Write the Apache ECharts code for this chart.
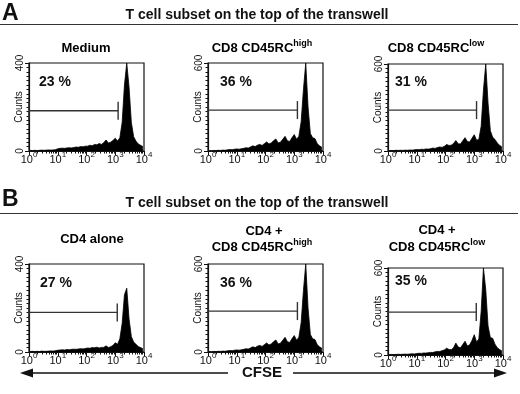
<!DOCTYPE html>
<html><head><meta charset="utf-8">
<script src="https://cdn.jsdelivr.net/npm/echarts@6/dist/echarts.min.js"></script>
<style>html,body{margin:0;padding:0;background:#fff}#c{width:520px;height:394px}</style>
</head><body><div id="c"></div>
<script>
// ---------- data ----------
const BIN_CENTERS = [0.04,0.12,0.20,0.28,0.36,0.44,0.52,0.60,0.68,0.76,0.84,0.92,1.00,1.08,1.16,1.24,1.32,1.40,1.48,1.56,1.64,1.72,1.80,1.88,1.96,2.04,2.12,2.20,2.28,2.36,2.44,2.52,2.60,2.68,2.76,2.84,2.92,3.00,3.08,3.16,3.24,3.32,3.40,3.48,3.56,3.64,3.72,3.80,3.88,3.96];
const COUNTS_MEDIUM = [3,2,3,2,3,4,3,4,5,4,5,6, 10, 12,13,12,14,15,14,16,18,17,20,19,22, 22,26,24,30,28,34,30,38,50,36,40,48,58,45, 60,130,300,400,290,130,65,45,32,26,20];
const COUNTS_CD8_HIGH = [3,2,4,3,5,4,6,5,8,10,9,12, 14,12,15,18,22,20,28,35,30,40,45,38, 50,62,48,55,70,82,55,60,80,100,70,65,90,112, 80,100,200,420,600,300,120,90,85,50,35,25];
const COUNTS_CD8_LOW = [3,4,3,5,4,5,4,6,5,7,6,8, 10,9,12,11,14,13,16,20,18,24,28,25, 32,45,38,40,52,72,50,48,70,92,65,62,88,112, 75,80,170,420,600,330,140,95,80,55,40,28];
const COUNTS_CD4_ALONE = [2,3,2,3,2,4,3,3,4,5,4,6, 8,9,10,9,11,10,12,13,12,14,15,14, 16,18,17,20,19,22,18,21,21,28,20,24,30,42, 35,60,130,260,290,150,70,45,35,25,20,15];
const COUNTS_CD4_CD8_HIGH = [3,2,4,3,5,4,6,5,8,10,9,12, 14,12,15,18,22,20,28,35,30,40,45,38, 50,62,48,55,70,82,55,60,80,100,70,65,90,112, 80,100,200,420,600,300,120,90,85,50,35,25];
const COUNTS_CD4_CD8_LOW = [3,4,3,4,5,4,5,6,5,7,8,7, 10,12,11,14,13,16,18,17,22,25,24,30, 35,47,38,36,50,82,55,50,72,95,62,70,100,140, 90,110,300,600,450,200,120,115,75,50,38,28];
const PANEL_COUNTS = [COUNTS_MEDIUM, COUNTS_CD8_HIGH, COUNTS_CD8_LOW, COUNTS_CD4_ALONE, COUNTS_CD4_CD8_HIGH, COUNTS_CD4_CD8_LOW];
const Y_MAX = [400, 600, 600, 400, 600, 600];
const PERCENT_LABELS = ['23 %', '36 %', '31 %', '27 %', '36 %', '35 %'];
const GATE_END = [3.10, 3.11, 3.08, 3.07, 3.11, 3.07];
const GATE_LEVEL = [183, 279, 282, 180, 279, 296];
const X_TICK_EXPONENTS = [0, 1, 2, 3, 4];
const SECTION_LETTERS = ['A', 'B'];
const SECTION_TITLE = 'T cell subset on the top of the transwell';
const PANEL_TITLES = [
  ['{t|Medium}'],
  ['{t|CD8 CD45RC}{s|high}'],
  ['{t|CD8 CD45RC}{s|low}'],
  ['{t|CD4 alone}'],
  ['{t|CD4 +}', '{t|CD8 CD45RC}{s|high}'],
  ['{t|CD4 +}', '{t|CD8 CD45RC}{s|low}']
];
const AXIS_X_NAME = 'CFSE';
const AXIS_Y_NAME = 'Counts';

// ---------- layout ----------
const FONT = "'Liberation Sans', Arial, Helvetica, sans-serif";
const INK = '#111';
const PANELS = [
  {left: 29, top: 63, width: 115, height: 88},
  {left: 208, top: 63, width: 115, height: 88},
  {left: 388, top: 64, width: 115, height: 87},
  {left: 29, top: 264, width: 115, height: 88},
  {left: 208, top: 264, width: 115, height: 88},
  {left: 388, top: 268, width: 115, height: 87}
];
const TITLE_POS = [
  [{x: 86, y: 47}], [{x: 262, y: 47}], [{x: 436, y: 47}],
  [{x: 92, y: 238}], [{x: 264, y: 230}, {x: 262, y: 246}], [{x: 437, y: 229}, {x: 437, y: 246}]
];
const PCT_POS = [{x: 39, y: 82}, {x: 220, y: 82}, {x: 395, y: 82}, {x: 40, y: 283}, {x: 220, y: 283}, {x: 395, y: 281}];

const MINOR_X_TICKS = [];
for (let d = 0; d < 4; d++) for (let k = 2; k < 10; k++) MINOR_X_TICKS.push(d + Math.log10(k));

const supRich = {
  t: {fontFamily: FONT, fontSize: 13, fontWeight: 'bold', color: INK, lineHeight: 15, verticalAlign: 'bottom'},
  s: {fontFamily: FONT, fontSize: 9, fontWeight: 'bold', color: INK, lineHeight: 10, padding: [0, 0, 6, 0], verticalAlign: 'bottom'}
};

const grid = [], xAxis = [], yAxis = [], series = [], graphic = [];
PANELS.forEach((p, i) => {
  grid.push({left: p.left, top: p.top, width: p.width, height: p.height, show: true, borderColor: INK, borderWidth: 1.2, backgroundColor: 'transparent'});
  xAxis.push({
    gridIndex: i, type: 'value', min: 0, max: 4, interval: 1,
    axisLine: {show: true, lineStyle: {color: INK, width: 1.2}},
    axisTick: {show: true, length: 4, lineStyle: {color: INK, width: 1}},
    axisLabel: {
      margin: 2, showMinLabel: true, showMaxLabel: true,
      formatter: v => '{b|10}{s|' + X_TICK_EXPONENTS[Math.round(v)] + '}',
      rich: {
        b: {fontFamily: FONT, fontSize: 11, color: INK, lineHeight: 12, verticalAlign: 'bottom'},
        s: {fontFamily: FONT, fontSize: 8, color: INK, lineHeight: 8, padding: [0, 0, 6, 0], verticalAlign: 'bottom'}
      }
    },
    splitLine: {show: false}
  });
  xAxis.push({
    gridIndex: i, type: 'value', min: 0, max: 4, position: 'bottom',
    axisLine: {show: false}, axisLabel: {show: false}, splitLine: {show: false},
    axisTick: {show: true, length: 2.5, customValues: MINOR_X_TICKS, lineStyle: {color: INK, width: 1}}
  });
  yAxis.push({
    gridIndex: i, type: 'value', min: 0, max: Y_MAX[i], interval: Y_MAX[i],
    name: AXIS_Y_NAME, nameLocation: 'middle', nameGap: 5, nameRotate: 90, nameMoveOverlap: false,
    nameTextStyle: {fontFamily: FONT, fontSize: 10, color: INK},
    axisLine: {show: true, lineStyle: {color: INK, width: 1.2}},
    axisTick: {show: true, length: 4, lineStyle: {color: INK}},
    minorTick: {show: true, splitNumber: 20, length: 2.5, lineStyle: {color: INK, width: 1}},
    axisLabel: {rotate: 90, fontFamily: FONT, fontSize: 10, color: INK, margin: 4, showMinLabel: true, showMaxLabel: true},
    splitLine: {show: false}, minorSplitLine: {show: false}
  });
  series.push({
    type: 'line', xAxisIndex: 2 * i, yAxisIndex: i,
    data: BIN_CENTERS.map((x, j) => [x, PANEL_COUNTS[i][j]]),
    symbol: 'none', lineStyle: {color: '#000', width: 0.8}, areaStyle: {color: '#000', opacity: 1}, silent: true
  });
  series.push({
    type: 'line', xAxisIndex: 2 * i, yAxisIndex: i, z: 5,
    data: [[0, GATE_LEVEL[i]], [GATE_END[i], GATE_LEVEL[i]]],
    symbol: 'rect', symbolSize: [1.4, 18], showSymbol: true,
    itemStyle: {color: '#333'}, lineStyle: {color: '#333', width: 1.3}, silent: true
  });
  PANEL_TITLES[i].forEach((t, k) => {
    graphic.push({type: 'text', x: TITLE_POS[i][k].x, y: TITLE_POS[i][k].y, silent: true,
      style: {text: t, rich: supRich, align: 'center', verticalAlign: 'middle'}});
  });
  graphic.push({type: 'text', x: PCT_POS[i].x, y: PCT_POS[i].y, silent: true,
    style: {text: PERCENT_LABELS[i], font: 'bold 14px ' + FONT, fill: INK, align: 'left', verticalAlign: 'middle'}});
});

[{ly: 14, ty: 15, line: 24.5}, {ly: 200, ty: 203, line: 213.5}].forEach((h, k) => {
  graphic.push({type: 'text', x: 2, y: h.ly, silent: true, style: {text: SECTION_LETTERS[k], font: 'bold 23px ' + FONT, fill: INK, align: 'left', verticalAlign: 'middle'}});
  graphic.push({type: 'text', x: 257, y: h.ty, silent: true, style: {text: SECTION_TITLE, font: 'bold 14px ' + FONT, fill: INK, align: 'center', verticalAlign: 'middle'}});
  graphic.push({type: 'line', silent: true, shape: {x1: 0, y1: h.line, x2: 518, y2: h.line}, style: {stroke: '#333', lineWidth: 1}});
});
const AY = 373;
graphic.push({type: 'line', silent: true, shape: {x1: 28, y1: AY, x2: 228, y2: AY}, style: {stroke: INK, lineWidth: 1.3}});
graphic.push({type: 'line', silent: true, shape: {x1: 293, y1: AY, x2: 498, y2: AY}, style: {stroke: INK, lineWidth: 1.3}});
graphic.push({type: 'polygon', silent: true, shape: {points: [[20, AY], [33, AY - 4.5], [33, AY + 4.5]]}, style: {fill: INK}});
graphic.push({type: 'polygon', silent: true, shape: {points: [[507, AY], [494, AY - 4.5], [494, AY + 4.5]]}, style: {fill: INK}});
graphic.push({type: 'text', x: 262, y: AY, silent: true, style: {text: AXIS_X_NAME, font: 'bold 15px ' + FONT, fill: INK, align: 'center', verticalAlign: 'middle'}});

const chart = echarts.init(document.getElementById('c'), null, {renderer: 'canvas'});
chart.setOption({animation: false, backgroundColor: '#fff', grid, xAxis, yAxis, series, graphic});
</script></body></html>
